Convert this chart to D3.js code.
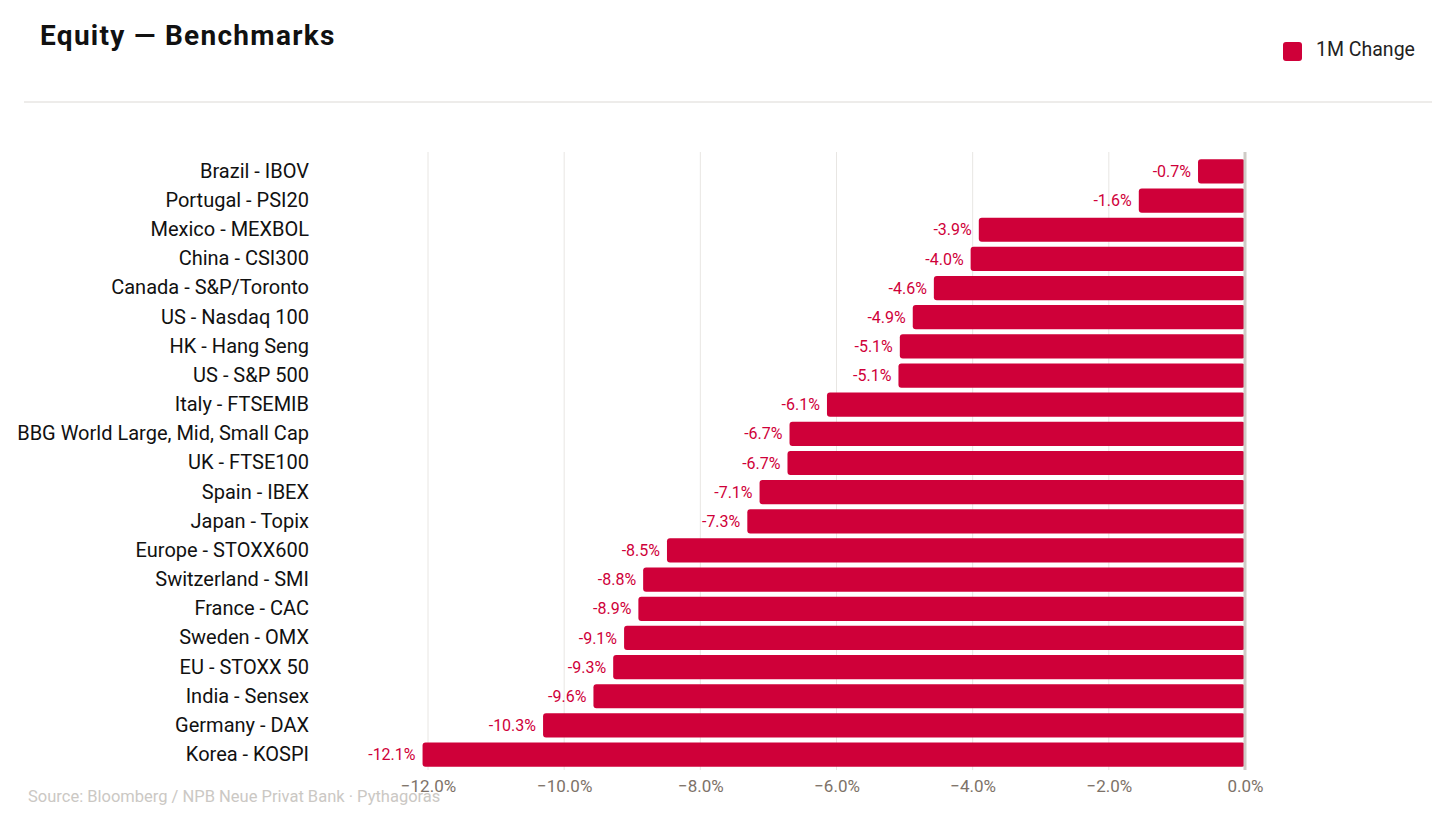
<!DOCTYPE html>
<html>
<head>
<meta charset="utf-8">
<script src="https://cdn.jsdelivr.net/npm/d3@7"></script>
<style>
  body { margin: 0; background: #fff; }
  svg { display: block; font-family: Roboto, "Liberation Sans", sans-serif; }
</style>
</head>
<body>
<svg id="chart" width="1456" height="819"></svg>
<script>
// data
const names = ["Brazil - IBOV", "Portugal - PSI20", "Mexico - MEXBOL", "China - CSI300",
  "Canada - S&P/Toronto", "US - Nasdaq 100", "HK - Hang Seng", "US - S&P 500",
  "Italy - FTSEMIB", "BBG World Large, Mid, Small Cap", "UK - FTSE100", "Spain - IBEX",
  "Japan - Topix", "Europe - STOXX600", "Switzerland - SMI", "France - CAC",
  "Sweden - OMX", "EU - STOXX 50", "India - Sensex", "Germany - DAX", "Korea - KOSPI"];
const change1M = [-0.69, -1.56, -3.91, -4.03, -4.57, -4.88, -5.07, -5.09, -6.14, -6.69, -6.72,
  -7.13, -7.31, -8.49, -8.84, -8.91, -9.12, -9.28, -9.57, -10.31, -12.08];
const labels = ["-0.7%", "-1.6%", "-3.9%", "-4.0%", "-4.6%", "-4.9%", "-5.1%", "-5.1%", "-6.1%",
  "-6.7%", "-6.7%", "-7.1%", "-7.3%", "-8.5%", "-8.8%", "-8.9%", "-9.1%", "-9.3%", "-9.6%",
  "-10.3%", "-12.1%"];
const ticks = [-12, -10, -8, -6, -4, -2, 0];

const red = "#cf0039";
const svg = d3.select("#chart");

// header
svg.append("text").attr("x", 40).attr("y", 45)
  .attr("font-size", 28).attr("font-weight", 700).attr("fill", "#111")
  .attr("letter-spacing", 1.3)
  .text("Equity \u2014 Benchmarks");
svg.append("line").attr("x1", 24).attr("x2", 1432).attr("y1", 102).attr("y2", 102)
  .attr("stroke", "#dcd9d5").attr("stroke-width", 1);

// legend
svg.append("rect").attr("x", 1283).attr("y", 42).attr("width", 19).attr("height", 19)
  .attr("rx", 3).attr("fill", red);
svg.append("text").attr("x", 1316).attr("y", 49).attr("dy", "0.35em")
  .attr("font-size", 19.5).attr("fill", "#222").text("1M Change");

const x = d3.scaleLinear().domain([-12, 0]).range([428, 1245]);
const y = d3.scaleBand().domain(names).range([157, 769]).paddingInner(0.17).paddingOuter(0.08);

// grid
svg.append("g").selectAll("line").data(ticks.slice(0, -1)).join("line")
  .attr("x1", d => x(d)).attr("x2", d => x(d))
  .attr("y1", 152).attr("y2", 770)
  .attr("stroke", "#e8e6e3").attr("stroke-width", 1);

// bars
svg.append("g").selectAll("rect").data(change1M).join("rect")
  .attr("x", d => x(d))
  .attr("y", (d, i) => y(names[i]))
  .attr("width", d => x(0) - x(d))
  .attr("height", y.bandwidth())
  .attr("rx", 3)
  .attr("fill", red);

// zero line
svg.append("line").attr("x1", x(0)).attr("x2", x(0)).attr("y1", 152).attr("y2", 770)
  .attr("stroke", "#cfcbc6").attr("stroke-width", 3);

// value labels
svg.append("g").selectAll("text").data(change1M).join("text")
  .attr("x", d => x(d) - 7)
  .attr("y", (d, i) => y(names[i]) + y.bandwidth() / 2)
  .attr("dy", "0.35em").attr("text-anchor", "end")
  .attr("font-size", 16).attr("fill", red)
  .text((d, i) => labels[i]);

// category axis
const yAxis = svg.append("g").attr("transform", "translate(318,0)")
  .call(d3.axisLeft(y).tickSize(0).tickPadding(9));
yAxis.select(".domain").remove();
yAxis.selectAll("text").attr("font-size", 20).attr("fill", "#111")
  .attr("font-family", "Roboto, sans-serif");

// value axis
const xAxis = svg.append("g").attr("transform", "translate(0,777)")
  .call(d3.axisBottom(x).tickValues(ticks).tickSize(0).tickPadding(3)
    .tickFormat(d => d3.format(".1f")(d) + "%"));
xAxis.select(".domain").remove();
xAxis.selectAll("text").attr("font-size", 17).attr("fill", "#7d7268")
  .attr("font-family", "Roboto, sans-serif");

// source
svg.append("text").attr("x", 28).attr("y", 802)
  .attr("font-size", 16.5).attr("fill", "#cbc8c4")
  .text("Source: Bloomberg / NPB Neue Privat Bank \u00b7 Pythagoras");
</script>
</body>
</html>
